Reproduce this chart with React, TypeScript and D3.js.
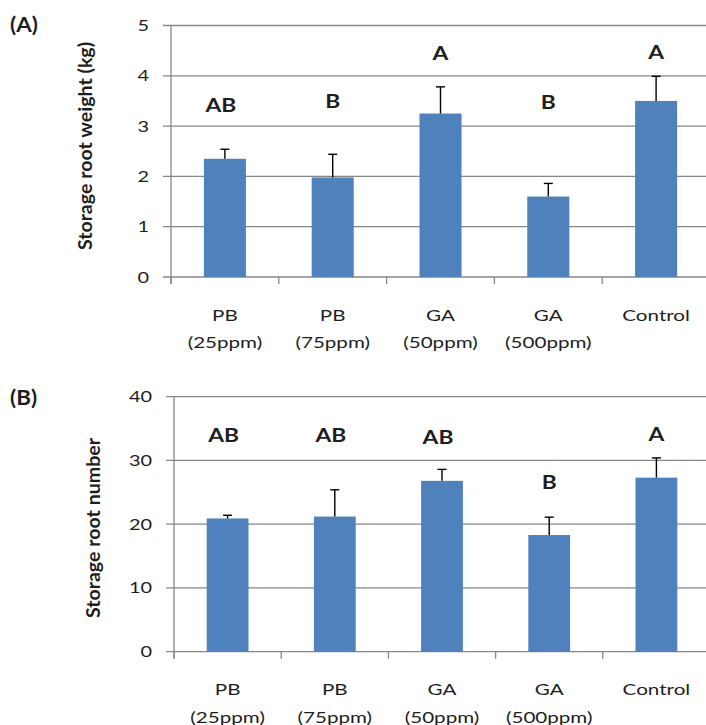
import React from "react";
import * as d3 from "d3";

// Treatments along the x axis (two-line labels)
const categories = ["PB (25ppm)", "PB (75ppm)", "GA (50ppm)", "GA (500ppm)", "Control"];
const labelLine1 = ["PB", "PB", "GA", "GA", "Control"];
const labelLine2 = ["(25ppm)", "(75ppm)", "(50ppm)", "(500ppm)", ""];

// Panel A: storage root weight (kg)
const weightMeans = [2.35, 1.98, 3.25, 1.6, 3.5];
const weightErrors = [0.19, 0.46, 0.53, 0.26, 0.49];
const weightLetters = ["AB", "B", "A", "B", "A"];
const weightLetterPos = [3.42, 3.49, 4.45, 3.47, 4.48];
const weightTicks = [0, 1, 2, 3, 4, 5];

// Panel B: storage root number
const numberMeans = [20.9, 21.2, 26.8, 18.3, 27.3];
const numberErrors = [0.5, 4.2, 1.8, 2.8, 3.1];
const numberLetters = ["AB", "AB", "AB", "B", "A"];
const numberLetterPos = [34.0, 34.0, 33.7, 26.6, 34.1];
const numberTicks = [0, 10, 20, 30, 40];

const W = 706;
const H = 725;
const FONT = "Lato, 'Open Sans', sans-serif";
const SX_LABEL = 1.33; // horizontal glyph stretch for axis labels
const SX_LETTER = 1.2; // horizontal glyph stretch for significance letters
const BAR = "#4F81BD";
const GRID = "#878787";
const INK = "#1e1e1e";

type PanelProps = {
  tag: string;
  tagY: number;
  title: string;
  titleX: number;
  titleY: number;
  means: number[];
  errors: number[];
  letters: string[];
  letterPos: number[];
  ticks: number[];
  left: number;
  top: number;
  bottom: number;
};

function Panel(p: PanelProps) {
  const right = 710;
  const y = d3
    .scaleLinear()
    .domain([d3.min(p.ticks) as number, d3.max(p.ticks) as number])
    .range([p.bottom, p.top]);
  const x = d3
    .scaleBand<string>()
    .domain(categories)
    .range([p.left, right])
    .paddingInner(0.61)
    .paddingOuter(0.305);
  const step = x.step();
  const bw = x.bandwidth();
  const cx = (i: number) => (x(categories[i]) as number) + bw / 2;
  const boundaries = d3.range(categories.length + 1).map((i) => p.left + i * step);

  return (
    <g>
      {/* panel tag */}
      <text
        transform={`translate(10, ${p.tagY}) scale(1.12,1)`}
        fontFamily={FONT}
        fontWeight={700}
        fontSize={20}
        fill={INK}
      >
        {p.tag}
      </text>

      {/* gridlines and y ticks */}
      {p.ticks.map((t) => (
        <g key={t}>
          <line x1={p.left - 8} x2={right} y1={y(t)} y2={y(t)} stroke={GRID} strokeWidth={1.3} />
          <text
            transform={`translate(${p.left - 22}, ${y(t) + 5.5}) scale(${SX_LABEL},1)`}
            textAnchor="end"
            fontFamily={FONT}
            fontSize={15}
            fill={INK}
          >
            {t}
          </text>
        </g>
      ))}

      {/* y axis line */}
      <line x1={p.left} x2={p.left} y1={p.top} y2={p.bottom + 7} stroke={GRID} strokeWidth={1.3} />

      {/* category boundary ticks */}
      {boundaries.map((bx, i) => (
        <line key={i} x1={bx} x2={bx} y1={p.bottom} y2={p.bottom + 7} stroke={GRID} strokeWidth={1.3} />
      ))}

      {/* bars */}
      {p.means.map((m, i) => (
        <rect
          key={i}
          x={x(categories[i]) as number}
          y={y(m)}
          width={bw}
          height={p.bottom - y(m)}
          fill={BAR}
        />
      ))}

      {/* error bars (upper) */}
      {p.means.map((m, i) => (
        <g key={i} stroke="#000" strokeWidth={1.4}>
          <line x1={cx(i)} x2={cx(i)} y1={y(m)} y2={y(m + p.errors[i])} />
          <line x1={cx(i) - 4.5} x2={cx(i) + 4.5} y1={y(m + p.errors[i])} y2={y(m + p.errors[i])} />
        </g>
      ))}

      {/* significance letters */}
      {p.letters.map((l, i) => (
        <text
          key={i}
          transform={`translate(${cx(i) - (l.length > 1 ? 4 : 0)}, ${y(p.letterPos[i]) + 7}) scale(${SX_LETTER},1)`}
          textAnchor="middle"
          fontFamily={FONT}
          fontWeight={700}
          fontSize={19}
          fill={INK}
        >
          {l}
        </text>
      ))}

      {/* x labels */}
      {categories.map((c, i) => (
        <g key={c}>
          <text
            transform={`translate(${cx(i)}, ${p.bottom + 43.5}) scale(${SX_LABEL},1)`}
            textAnchor="middle"
            fontFamily={FONT}
            fontSize={15.5}
            fill={INK}
          >
            {labelLine1[i]}
          </text>
          <text
            transform={`translate(${cx(i)}, ${p.bottom + 71}) scale(${SX_LABEL},1)`}
            textAnchor="middle"
            fontFamily={FONT}
            fontSize={15.5}
            fill={INK}
          >
            {labelLine2[i]}
          </text>
        </g>
      ))}

      {/* y title */}
      <text
        transform={`translate(${p.titleX}, ${p.titleY}) rotate(-90)`}
        textAnchor="middle"
        fontFamily={FONT}
        fontWeight={700}
        fontSize={19.6}
        fill={INK}
      >
        {p.title}
      </text>
    </g>
  );
}

export default function App() {
  return (
    <svg
      width={W}
      height={H}
      viewBox={`0 0 ${W} ${H}`}
      style={{ position: "absolute", left: 0, top: 0, background: "#fff" }}
    >
      <rect width={W} height={H} fill="#fff" />
      <Panel
        tag="(A)"
        tagY={32}
        title="Storage root weight (kg)"
        titleX={92}
        titleY={146}
        means={weightMeans}
        errors={weightErrors}
        letters={weightLetters}
        letterPos={weightLetterPos}
        ticks={weightTicks}
        left={171}
        top={25.5}
        bottom={277}
      />
      <Panel
        tag="(B)"
        tagY={405}
        title="Storage root number"
        titleX={99.5}
        titleY={528}
        means={numberMeans}
        errors={numberErrors}
        letters={numberLetters}
        letterPos={numberLetterPos}
        ticks={numberTicks}
        left={174}
        top={396.7}
        bottom={651.7}
      />
    </svg>
  );
}
